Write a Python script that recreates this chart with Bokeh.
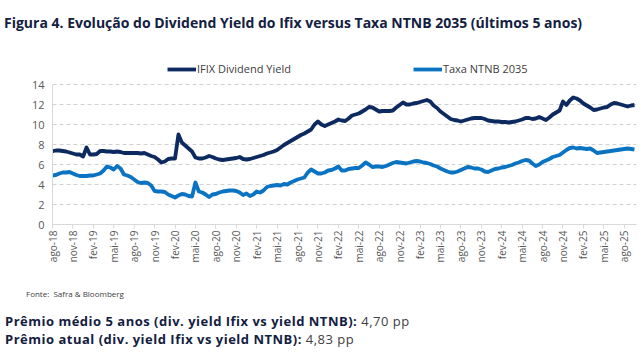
from bokeh.plotting import figure
from bokeh.models import Range1d, FixedTicker, Legend, LegendItem, ColumnDataSource, Div
from bokeh.layouts import column
from bokeh.embed import file_html
from bokeh.resources import INLINE
import math

# Half-month steps starting at ago-18
step = 0.5
ifix_dy = [
    7.33, 7.4, 7.4, 7.35, 7.3, 7.2, 7.1, 7.0, 7.0, 6.8,
    7.7, 7.0, 7.0, 7.05, 7.35, 7.35, 7.3, 7.3, 7.25, 7.3,
    7.25, 7.15, 7.15, 7.15, 7.15, 7.15, 7.1, 7.15, 7.0, 6.85,
    6.75, 6.5, 6.2, 6.3, 6.55, 6.6, 6.6, 9.0, 8.2, 7.9,
    7.6, 7.3, 6.7, 6.6, 6.6, 6.7, 6.85, 6.75, 6.6, 6.5,
    6.45, 6.5, 6.55, 6.6, 6.65, 6.75, 6.55, 6.5, 6.55, 6.65,
    6.75, 6.85, 6.95, 7.1, 7.2, 7.3, 7.45, 7.7, 7.95, 8.15,
    8.35, 8.55, 8.75, 8.95, 9.1, 9.3, 9.5, 10.0, 10.3, 10.0,
    9.85, 10.0, 10.15, 10.3, 10.5, 10.4, 10.35, 10.6, 10.9, 11.0,
    11.1, 11.3, 11.5, 11.75, 11.7, 11.5, 11.3, 11.35, 11.35, 11.35,
    11.4, 11.7, 11.95, 12.2, 12.0, 12.0, 12.1, 12.15, 12.25, 12.35,
    12.45, 12.3, 11.9, 11.65, 11.3, 11.05, 10.8, 10.55, 10.45, 10.4,
    10.3, 10.4, 10.5, 10.6, 10.65, 10.65, 10.65, 10.55, 10.4, 10.35,
    10.3, 10.3, 10.25, 10.25, 10.2, 10.25, 10.3, 10.4, 10.5, 10.65,
    10.65, 10.55, 10.6, 10.75, 10.6, 10.45, 10.7, 11.0, 11.2, 11.4,
    12.3, 11.95, 12.4, 12.7, 12.6, 12.4, 12.1, 11.9, 11.7, 11.45,
    11.5, 11.6, 11.7, 11.75, 12.0, 12.15, 12.1, 12.0, 11.9, 11.8,
    11.9, 11.95,
]
ntnb_2035 = [
    4.9, 4.95, 5.1, 5.2, 5.2, 5.25, 5.1, 4.95, 4.85, 4.85,
    4.85, 4.9, 4.9, 5.0, 5.1, 5.4, 5.8, 5.7, 5.5, 5.85,
    5.6, 5.0, 4.9, 4.75, 4.5, 4.25, 4.15, 4.2, 4.15, 3.9,
    3.35, 3.3, 3.3, 3.25, 3.0, 2.85, 2.7, 2.9, 3.05, 3.0,
    2.85, 2.8, 4.2, 3.3, 3.2, 3.0, 2.75, 3.0, 3.05, 3.2,
    3.3, 3.35, 3.4, 3.4, 3.35, 3.2, 2.95, 3.1, 2.85, 3.0,
    3.3, 3.2, 3.4, 3.75, 3.85, 3.9, 3.95, 3.9, 4.05, 4.0,
    4.2, 4.35, 4.5, 4.6, 4.7, 5.2, 5.5, 5.3, 5.1, 5.1,
    5.2, 5.4, 5.45, 5.6, 5.8, 5.4, 5.4, 5.55, 5.6, 5.65,
    5.65, 5.9, 6.2, 6.0, 5.75, 5.8, 5.8, 5.75, 5.85, 6.0,
    6.15, 6.25, 6.2, 6.15, 6.1, 6.2, 6.3, 6.35, 6.3, 6.2,
    6.15, 6.05, 5.9, 5.8, 5.6, 5.45, 5.3, 5.2, 5.2, 5.3,
    5.45, 5.6, 5.75, 5.7, 5.6, 5.6, 5.5, 5.3, 5.25, 5.4,
    5.55, 5.6, 5.7, 5.75, 5.85, 5.95, 6.1, 6.2, 6.35, 6.45,
    6.4, 6.1, 5.85, 6.0, 6.25, 6.4, 6.55, 6.75, 6.85, 6.95,
    7.2, 7.45, 7.65, 7.7, 7.6, 7.65, 7.6, 7.55, 7.6, 7.4,
    7.15, 7.2, 7.25, 7.3, 7.35, 7.4, 7.45, 7.5, 7.55, 7.6,
    7.55, 7.5,
]
tick_labels = [
    "ago-18", "nov-18", "fev-19", "mai-19", "ago-19", "nov-19", "fev-20", "mai-20",
    "ago-20", "nov-20", "fev-21", "mai-21", "ago-21", "nov-21", "fev-22", "mai-22",
    "ago-22", "nov-22", "fev-23", "mai-23", "ago-23", "nov-23", "fev-24", "mai-24",
    "ago-24", "nov-24", "fev-25", "mai-25", "ago-25",
]
series_names = ["IFIX Dividend Yield", "Taxa NTNB 2035"]
title_text = "Figura 4. Evolução do Dividend Yield do Ifix versus Taxa NTNB 2035 (últimos 5 anos)"
source_text = "Fonte:&nbsp; Safra &amp; Bloomberg"
premio_medio_label = "Prêmio médio 5 anos (div. yield Ifix vs yield NTNB):"
premio_medio_value = "4,70 pp"
premio_atual_label = "Prêmio atual (div. yield Ifix vs yield NTNB):"
premio_atual_value = "4,83 pp"

months = [i * step for i in range(len(ifix_dy))]
src = ColumnDataSource(dict(x=months, dy=ifix_dy, ntnb=ntnb_2035))

DARK = "#0c2a5f"
BLUE = "#0b74c2"
GRAY = "#595959"
NAVY_TXT = "#13203f"
FONT = "Open Sans"
W = 641

title_div = Div(width=W, height=56, margin=0, text=(
    f'<div style="position:relative;width:{W}px;height:56px;">'
    f'<div style="position:absolute;left:4px;top:14px;white-space:nowrap;'
    f'font-family:\'{FONT}\';font-weight:bold;font-size:14px;line-height:18px;color:{NAVY_TXT};">'
    f'{title_text}</div></div>'))

p = figure(width=W, height=210, output_backend="svg", toolbar_location=None, title=None,
           x_range=Range1d(0, 85.8), y_range=Range1d(0, 16.8),
           min_border_left=52, min_border_right=5, min_border_top=0, min_border_bottom=42,
           margin=0)
p.outline_line_color = None
p.background_fill_color = "white"

r1 = p.line("x", "dy", source=src, line_color=DARK, line_width=3.8, line_join="round")
r2 = p.line("x", "ntnb", source=src, line_color=BLUE, line_width=3.8, line_join="round")

# axes
p.xaxis.ticker = FixedTicker(ticks=[3 * i for i in range(len(tick_labels))])
p.xaxis.major_label_overrides = {3 * i: t for i, t in enumerate(tick_labels)}
p.xaxis.major_label_orientation = math.pi / 2
p.xaxis.major_label_text_font = FONT
p.xaxis.major_label_text_font_size = "10px"
p.xaxis.major_label_text_color = GRAY
p.xaxis.axis_line_color = "#d9d9d9"
p.xaxis.major_tick_line_color = "#d9d9d9"
p.xaxis.major_tick_out = 4
p.xaxis.major_tick_in = 0
p.xaxis.minor_tick_line_color = None
p.xaxis.major_label_standoff = 2

p.yaxis.ticker = FixedTicker(ticks=[0, 2, 4, 6, 8, 10, 12, 14])
p.yaxis.bounds = (0, 14)
p.yaxis.major_label_text_font = FONT
p.yaxis.major_label_text_font_size = "11px"
p.yaxis.major_label_text_color = GRAY
p.yaxis.axis_line_color = "#d9d9d9"
p.yaxis.major_tick_line_color = None
p.yaxis.minor_tick_line_color = None
p.yaxis.major_tick_out = 0
p.yaxis.major_label_standoff = 8

p.xgrid.grid_line_color = None
p.ygrid.grid_line_color = "#d0d0d0"
p.ygrid.grid_line_dash = "4 3"
p.ygrid.ticker = FixedTicker(ticks=[2, 4, 6, 8, 10, 12, 14])

legend = Legend(items=[LegendItem(label=series_names[0], renderers=[r1]),
                       LegendItem(label=series_names[1], renderers=[r2])],
                orientation="horizontal", location=(115, 148),
                border_line_color=None, background_fill_alpha=0,
                padding=0, margin=0, spacing=122, label_standoff=1,
                glyph_width=29, glyph_height=14, label_height=14,
                label_text_font=FONT, label_text_font_size="11px",
                label_text_color="#404040")
p.add_layout(legend, "center")

footer_div = Div(width=W, height=95, margin=0, text=(
    f'<div style="position:relative;width:{W}px;height:95px;font-family:\'{FONT}\';">'
    f'<div style="position:absolute;left:26px;top:22px;white-space:nowrap;font-size:8px;'
    f'line-height:12px;color:#404040;">{source_text}</div>'
    f'<div style="position:absolute;left:5px;top:48px;white-space:nowrap;font-size:13px;'
    f'letter-spacing:0.5px;line-height:14px;color:#404040;">'
    f'<span style="font-weight:bold;color:{NAVY_TXT};">'
    f'{premio_medio_label}</span> {premio_medio_value}</div>'
    f'<div style="position:absolute;left:5px;top:66px;white-space:nowrap;font-size:13px;'
    f'letter-spacing:0.5px;line-height:14px;color:#404040;">'
    f'<span style="font-weight:bold;color:{NAVY_TXT};">'
    f'{premio_atual_label}</span> {premio_atual_value}</div>'
    f'</div>'))

layout = column(title_div, p, footer_div, spacing=0)
open("out.html", "w").write(file_html(layout, INLINE))
